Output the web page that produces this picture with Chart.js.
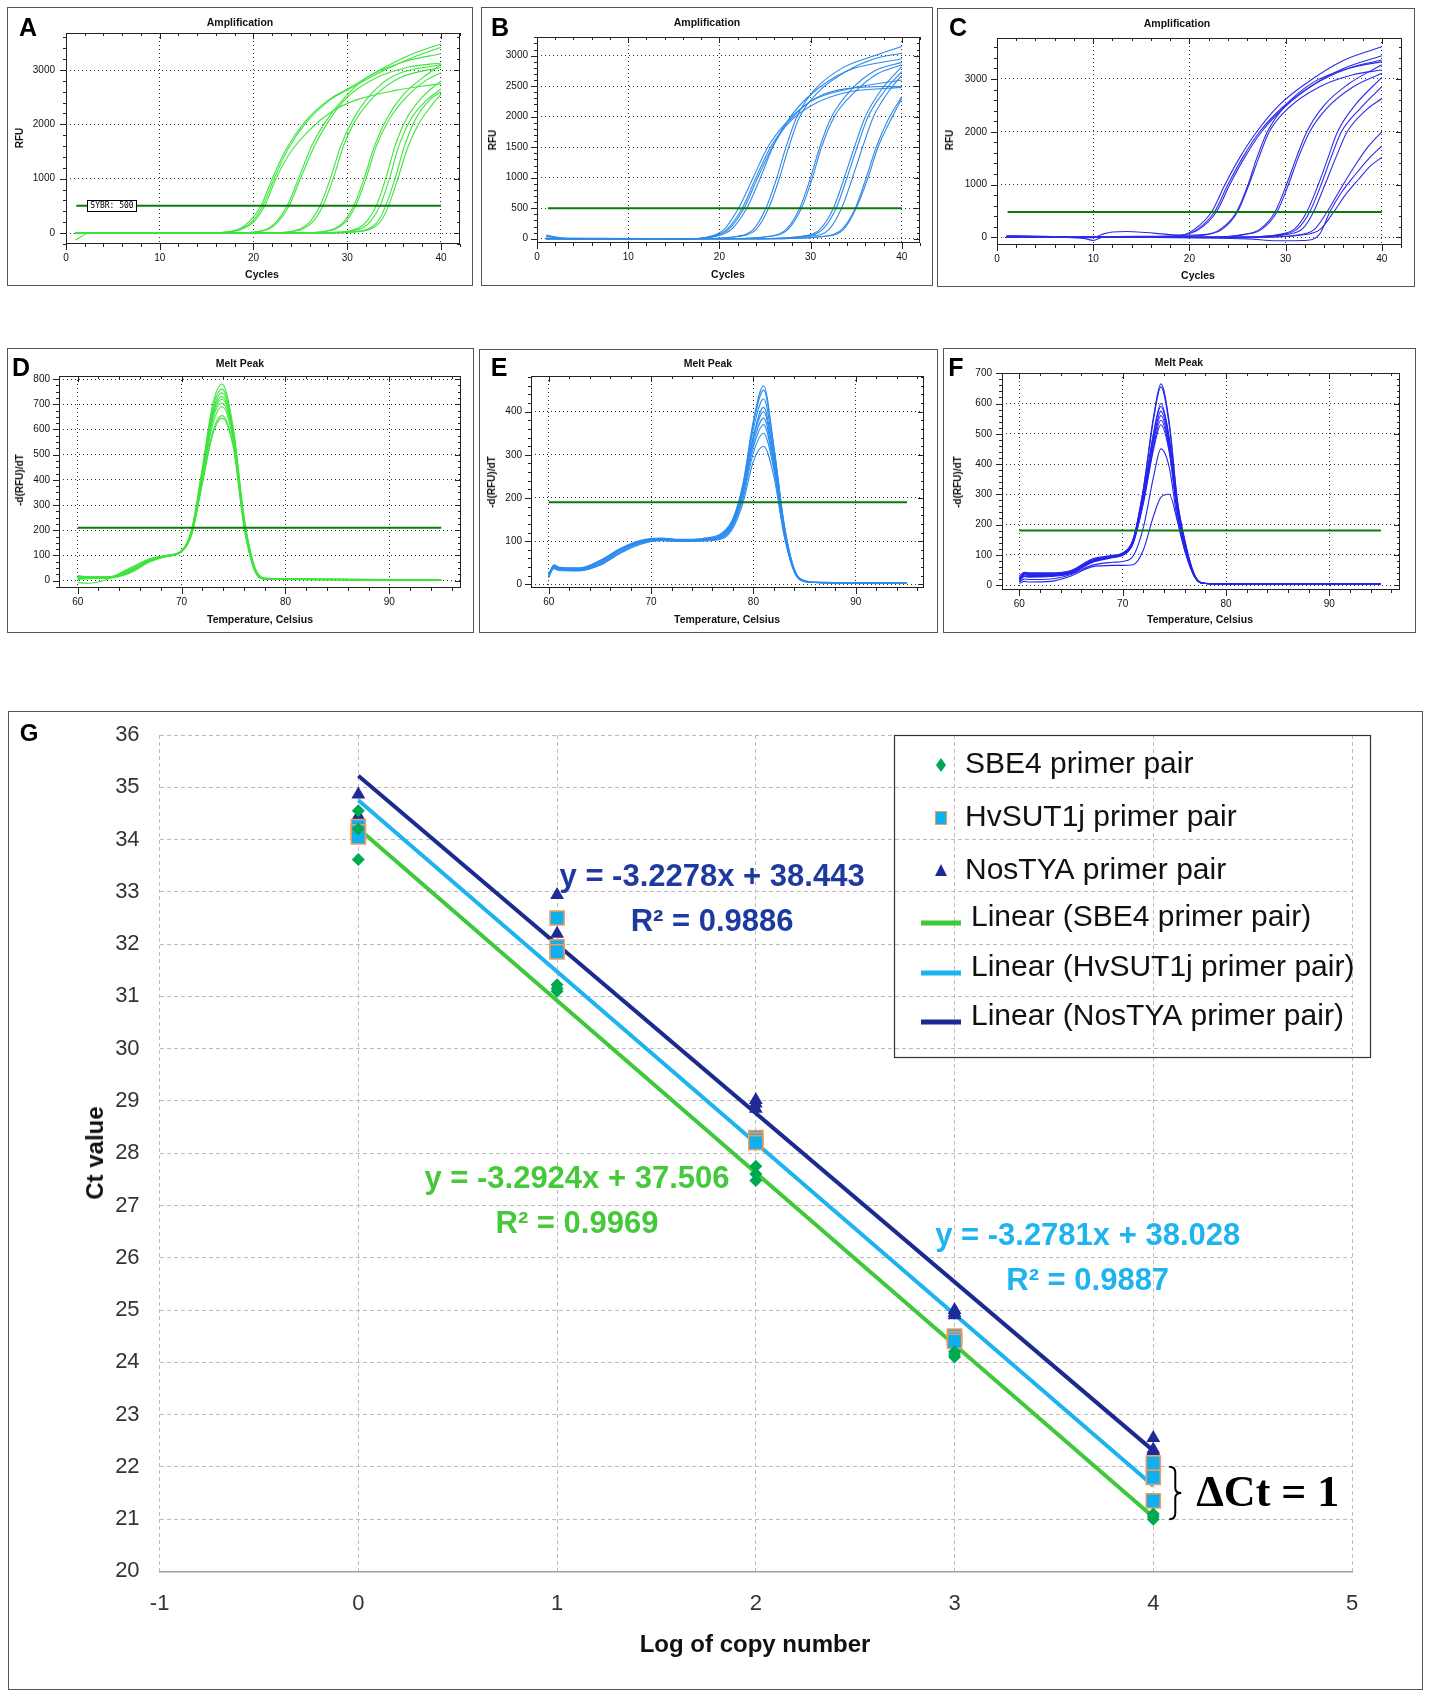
<!DOCTYPE html>
<html>
<head>
<meta charset="utf-8">
<title>qPCR amplification, melt peaks and standard curves</title>
<script src="https://cdn.jsdelivr.net/npm/chart.js@4.4.1/dist/chart.umd.min.js"></script>
<style>
  html, body { margin: 0; padding: 0; background: #fff; }
  body { position: relative; width: 1429px; height: 1696px; overflow: hidden; font-family: "Liberation Sans", Arial, sans-serif; }
  .box { position: absolute; border: 1px solid #555; box-sizing: border-box; }
  canvas { position: absolute; }
  .t { position: absolute; white-space: nowrap; line-height: 1; transform: translate(-50%, -50%); color: #111; }
  .rot { transform: translate(-50%, -50%) rotate(-90deg); }
  .sybr { position: absolute; box-sizing: border-box; border: 1px solid #000; background: #fff; white-space: nowrap;
          overflow: hidden; font: 8px "DejaVu Sans Mono", monospace; line-height: 10px; text-align: center; }
</style>
</head>
<body>
<script>
const FONT = '"Liberation Sans", Arial, sans-serif';
Chart.defaults.font.family = FONT;

const ampTicksX = [0, 10, 20, 30, 40];
const rfuTicksA = [0, 1000, 2000, 3000];
const rfuTicksB = [0, 500, 1000, 1500, 2000, 2500, 3000];
const rfuTicksC = [0, 1000, 2000, 3000];

const ampA = [
  [[1,-10],[14,-5],[17,20],[18.5,80],[19.5,200],[20.8,500],[22,1000],[23.5,1550],[25.5,2050],[28,2450],[30,2650],[34,3050],[37,3300],[40,3480]],
  [[1,-130],[2.5,0],[14,0],[17.2,20],[18.7,80],[19.8,200],[21,500],[22.2,1000],[23.7,1550],[25.7,2050],[28.2,2450],[30.2,2650],[34,3000],[37,3230],[40,3420]],
  [[1,0],[14,0],[17.4,20],[18.9,80],[20,200],[21.2,500],[22.4,1000],[24,1500],[26,1900],[28.5,2250],[31,2450],[35,2620],[40,2750]],
  [[1,0],[17,0],[20,20],[21.5,80],[22.4,200],[23.6,500],[24.8,1000],[26.2,1600],[27.5,2000],[29.5,2450],[32,2850],[36,3150],[40,3300]],
  [[1,5],[17,0],[20.2,20],[21.7,80],[22.6,200],[23.8,500],[25,1000],[26.5,1600],[27.8,2000],[30,2500],[33,2850],[36.5,3050],[40,3130]],
  [[1,0],[20,0],[23.5,20],[25,80],[26,200],[27.1,500],[28.2,1000],[29.3,1600],[30.5,2050],[32.5,2550],[35,2900],[40,3100]],
  [[1,0],[20,0],[23.8,20],[25.3,80],[26.3,200],[27.4,500],[28.5,1000],[29.6,1600],[30.8,2050],[32.8,2500],[35.5,2850],[40,3050]],
  [[1,0],[23,0],[27,20],[28.6,80],[29.6,200],[30.7,500],[31.8,1000],[32.9,1600],[34.2,2100],[36,2550],[38,2850],[40,3100]],
  [[1,0],[23,0],[27.2,20],[28.8,80],[29.8,200],[30.9,500],[32,1000],[33.1,1600],[34.5,2100],[36.3,2500],[38.3,2800],[40,2950]],
  [[1,0],[26,0],[30,30],[31.3,100],[32.1,220],[33.1,500],[34.1,1000],[35.1,1600],[36.3,2100],[38,2500],[40,2800]],
  [[1,0],[26,0],[30.4,30],[31.7,100],[32.5,220],[33.5,500],[34.5,1000],[35.5,1600],[36.8,2100],[38.5,2450],[40,2650]],
  [[1,0],[27,0],[31.5,40],[32.7,120],[33.4,250],[34.1,500],[35.1,1000],[36.1,1600],[37.3,2100],[38.8,2450],[40,2600]],
  [[1,0],[27,0],[31.8,40],[33,120],[33.7,250],[34.4,500],[35.4,1000],[36.4,1550],[37.6,2000],[39,2350],[40,2550]]
];

const ampB = [
  [[1,50],[2.5,10],[4,0],[17,0],[19,40],[20.5,150],[22.1,500],[23.7,1000],[25.3,1500],[27.3,1900],[30,2250],[34,2450],[40,2600]],
  [[1,40],[3,0],[17,0],[19.2,40],[20.8,150],[22.5,500],[24,1000],[25.6,1500],[27.6,1900],[30.3,2200],[34,2400],[40,2480]],
  [[1,60],[2.5,20],[4,0],[17,0],[19.4,40],[21,150],[22.7,500],[24.2,1000],[25.8,1500],[27.8,1950],[30.5,2300],[34,2460],[40,2500]],
  [[1,0],[17,0],[19.7,40],[21.3,150],[23,500],[24.5,1000],[26,1550],[27.8,2000],[30.3,2400],[34,2750],[40,2950]],
  [[1,0],[18,0],[22,40],[23.7,150],[25.1,500],[26.3,1000],[27.3,1500],[28.5,2000],[30.5,2450],[33.5,2800],[37,3000],[40,3150]],
  [[1,10],[18,0],[22.3,40],[24,150],[25.4,500],[26.6,1000],[27.6,1500],[28.8,2000],[30.8,2400],[34,2750],[37,2950],[40,3040]],
  [[1,0],[21,0],[25.5,40],[27.3,150],[28.8,500],[30,1000],[31,1500],[32.3,2000],[34.5,2450],[37,2750],[40,2890]],
  [[1,0],[21,0],[25.7,40],[27.5,150],[29,500],[30.2,1000],[31.2,1500],[32.6,2000],[34.8,2400],[37.3,2700],[40,2850]],
  [[1,0],[24,0],[29,40],[31,150],[32.5,500],[33.7,1000],[34.8,1500],[36,2000],[37.8,2450],[40,2820]],
  [[1,0],[24,0],[29.3,40],[31.3,150],[32.8,500],[34,1000],[35.1,1500],[36.3,2000],[38,2400],[40,2740]],
  [[1,0],[25,0],[30,40],[32,150],[33.4,500],[34.6,1000],[35.7,1500],[36.9,2000],[38.5,2400],[40,2680]],
  [[1,0],[26,0],[31.5,40],[33.4,150],[34.9,500],[36.1,1000],[37.2,1500],[38.5,1950],[40,2330]],
  [[1,0],[26,0],[31.7,40],[33.6,150],[35,500],[36.3,1000],[37.4,1500],[38.8,1950],[40,2300]]
];

const ampC = [
  [[1,30],[5,20],[10,0],[15,10],[19,30],[20.5,150],[22.3,480],[23.7,1000],[25.2,1500],[27,2000],[29.3,2500],[32,2900],[36,3350],[40,3610]],
  [[1,20],[9,-20],[10,-60],[11,0],[15,20],[19,40],[20.8,150],[22.6,480],[24,1000],[25.5,1500],[27.3,2000],[29.6,2450],[32.5,2850],[36,3200],[40,3440]],
  [[1,10],[15,0],[19.2,40],[21,150],[22.8,480],[24.2,1000],[25.7,1500],[27.5,2000],[29.8,2450],[33,2900],[36.5,3200],[40,3360]],
  [[1,30],[10,-10],[11,60],[12,100],[13.5,110],[15.5,90],[17.5,60],[19.5,40],[21.5,50],[23.2,150],[24.9,480],[26.1,1000],[27,1500],[28.1,2000],[30,2500],[33,2950],[36.5,3200],[40,3330]],
  [[1,10],[18,10],[21.8,50],[23.4,150],[25,480],[26.2,1000],[27.2,1500],[28.3,2000],[30.3,2450],[33.5,2850],[37,3080],[40,3170]],
  [[1,0],[22,0],[25.5,50],[27.3,150],[28.9,480],[30.1,1000],[31.1,1500],[32.2,2000],[34,2500],[36.5,2900],[40,3270]],
  [[1,0],[22,0],[25.7,50],[27.5,150],[29.1,480],[30.3,1000],[31.3,1500],[32.5,2000],[34.3,2450],[37,2850],[40,3110]],
  [[1,0],[25,0],[29.5,60],[31,170],[32.2,480],[33.4,1000],[34.4,1500],[35.4,2000],[37.2,2500],[40,3030]],
  [[1,0],[25,0],[29.8,60],[31.3,170],[32.5,480],[33.7,1000],[34.7,1500],[35.8,2000],[37.8,2450],[40,2855]],
  [[1,0],[25,0],[30.3,60],[31.8,170],[32.9,480],[34.1,1000],[35.2,1500],[36.4,2000],[38.3,2400],[40,2630]],
  [[1,0],[26,0],[31,40],[33,150],[34.3,480],[35.5,850],[37,1300],[38.5,1700],[40,2000]],
  [[1,10],[26,-30],[29,-65],[32,-60],[33.5,50],[34.6,480],[35.8,850],[37.3,1200],[38.7,1500],[40,1730]],
  [[1,0],[27,0],[31.5,40],[33.6,150],[35,480],[36.2,800],[37.6,1100],[38.8,1350],[40,1515]]
];

// ---- melt peaks, -d(RFU)/dT sampled at the temperatures below (panels D-F) ----
const meltTicksX = [60, 70, 80, 90];
const dTicksD = [0, 100, 200, 300, 400, 500, 600, 700, 800];
const dTicksE = [0, 100, 200, 300, 400];
const dTicksF = [0, 100, 200, 300, 400, 500, 600, 700];

const tempD = [60, 61, 63, 65, 67, 68.5, 70, 71, 72, 73, 73.9, 75, 76, 77, 78, 80, 95];
const meltD = [
  [18, 15, 14, 40, 80, 97, 118, 210, 450, 700, 780, 600, 260, 60, 10, 8, 3],
  [10, 12, 12, 35, 78, 96, 115, 205, 440, 685, 760, 590, 250, 55, 9, 7, 3],
  [5, 8, 10, 30, 75, 95, 115, 200, 430, 670, 745, 585, 245, 55, 8, 7, 2],
  [12, 14, 15, 45, 85, 100, 120, 200, 425, 660, 730, 575, 240, 50, 8, 6, 2],
  [-8, -10, 8, 50, 88, 100, 118, 195, 420, 650, 720, 570, 235, 50, 7, 6, 2],
  [15, 10, 12, 35, 80, 98, 116, 195, 410, 640, 705, 560, 230, 48, 7, 5, 2],
  [8, 10, 14, 38, 82, 97, 115, 190, 400, 620, 690, 550, 225, 45, 7, 5, 2],
  [20, 15, 15, 42, 86, 99, 117, 190, 390, 590, 655, 530, 220, 45, 6, 5, 2],
  [10, 12, 13, 36, 84, 96, 114, 185, 385, 580, 645, 525, 215, 42, 6, 5, 2]
];

const tempE = [60, 60.5, 61, 63, 65, 67, 69, 71, 73, 75, 77, 78, 79, 80, 81, 82, 83, 84, 85, 86, 95];
const meltE = [
  [15, 42, 38, 36, 52, 80, 100, 106, 104, 105, 118, 150, 235, 380, 460, 320, 140, 35, 8, 5, 3],
  [20, 45, 40, 37, 55, 83, 102, 107, 103, 106, 120, 152, 232, 372, 450, 318, 140, 34, 8, 5, 3],
  [25, 40, 36, 34, 48, 78, 98, 104, 102, 104, 116, 148, 228, 360, 430, 305, 135, 33, 8, 4, 3],
  [18, 38, 35, 33, 46, 75, 96, 103, 101, 103, 114, 145, 222, 345, 410, 295, 130, 32, 7, 4, 2],
  [22, 44, 38, 38, 55, 82, 100, 106, 103, 104, 112, 142, 218, 338, 400, 290, 128, 31, 7, 4, 2],
  [16, 40, 36, 35, 50, 79, 98, 105, 102, 103, 111, 140, 214, 328, 385, 282, 125, 30, 7, 4, 2],
  [20, 37, 33, 32, 45, 74, 95, 102, 100, 102, 110, 138, 208, 318, 370, 275, 122, 30, 7, 4, 2],
  [24, 42, 37, 36, 52, 80, 97, 104, 101, 102, 108, 135, 200, 305, 350, 265, 118, 29, 6, 4, 2],
  [18, 36, 32, 31, 44, 72, 93, 101, 99, 100, 106, 130, 190, 285, 320, 250, 112, 28, 6, 4, 2]
];

const tempF = [60, 60.5, 61, 63, 65, 67, 69, 70, 71, 72, 73, 73.7, 74.5, 75.3, 76, 77, 78, 80, 95];
const meltF = [
  [20, 40, 38, 38, 45, 80, 95, 105, 150, 320, 560, 665, 540, 280, 150, 30, 6, 4, 3],
  [25, 38, 36, 36, 44, 82, 96, 104, 148, 315, 550, 655, 530, 275, 148, 30, 6, 4, 3],
  [15, 35, 33, 34, 42, 78, 93, 102, 145, 300, 505, 600, 490, 260, 140, 28, 5, 4, 3],
  [30, 42, 40, 40, 48, 85, 98, 106, 150, 300, 500, 590, 480, 255, 138, 28, 5, 4, 3],
  [18, 30, 28, 30, 40, 76, 92, 100, 140, 290, 485, 575, 470, 250, 135, 27, 5, 4, 3],
  [22, 36, 34, 35, 43, 80, 94, 103, 142, 285, 475, 560, 460, 245, 132, 27, 5, 3, 2],
  [12, 28, 26, 28, 38, 74, 90, 98, 136, 275, 460, 545, 450, 240, 130, 26, 5, 3, 2],
  [20, 33, 31, 32, 41, 77, 92, 100, 138, 270, 450, 530, 440, 235, 128, 26, 5, 3, 2],
  [10, 20, 18, 20, 35, 65, 75, 78, 95, 190, 360, 450, 390, 215, 115, 24, 5, 3, 2],
  [5, 12, 10, 12, 30, 60, 65, 65, 67, 116, 230, 290, 300, 210, 115, 25, 5, 3, 2]
];

// ---- standard curves (panel G): Ct against log copy number ----
const sbe4X = [0, 0, 0, 1, 1, 1, 2, 2, 2, 3, 3, 3, 4, 4, 4];
const sbe4Y = [34.55, 34.2, 33.62, 31.22, 31.1, 31.15, 27.75, 27.6, 27.48, 24.1, 24.2, 24.15, 21.05, 21.1, 21.0];
const hvX = [0, 0, 0, 1, 1, 1, 2, 2, 2, 3, 3, 3, 4, 4, 4];
const hvY = [34.25, 34.15, 34.05, 32.5, 31.95, 31.85, 28.3, 28.25, 28.2, 24.5, 24.45, 24.4, 22.07, 21.8, 21.35];
const nosX = [0, 0, 0, 1, 1, 1, 2, 2, 2, 3, 3, 3, 4, 4, 4];
const nosY = [34.86, 34.45, 34.4, 32.94, 32.44, 32.2, 29.02, 28.95, 28.85, 25.0, 24.95, 24.9, 22.55, 22.33, 22.3];
const fitX = [0, 4];
const sbe4Fit = [34.21, 21.04];
const hvFit = [34.75, 21.64];
const nosFit = [35.22, 22.31];
const gTicksX = [-1, 0, 1, 2, 3, 4, 5];
const gTicksY = [20, 21, 22, 23, 24, 25, 26, 27, 28, 29, 30, 31, 32, 33, 34, 35, 36];

const eqLabels = [
  { text: 'y = -3.2278x + 38.443', x: 1.78, y: 33.28, color: '#1f3a9f' },
  { text: 'R\u00b2 = 0.9886', x: 1.78, y: 32.42, color: '#1f3a9f' },
  { text: 'y = -3.2924x + 37.506', x: 1.10, y: 27.49, color: '#45c93a' },
  { text: 'R\u00b2 = 0.9969', x: 1.10, y: 26.63, color: '#45c93a' },
  { text: 'y = -3.2781x + 38.028', x: 3.67, y: 26.40, color: '#1fb4ee' },
  { text: 'R\u00b2 = 0.9887', x: 3.67, y: 25.54, color: '#1fb4ee' }
];

// ---------- page helpers ----------
function addText(txt, x, y, css, rot) {
  const d = document.createElement('div');
  d.className = rot ? 't rot' : 't';
  d.style.left = x + 'px';
  d.style.top = y + 'px';
  d.style.cssText += css;
  d.textContent = txt;
  document.body.appendChild(d);
}
function addBox(b) {
  const d = document.createElement('div');
  d.className = 'box';
  d.style.cssText = `left:${b[0]}px;top:${b[1]}px;width:${b[2] - b[0]}px;height:${b[3] - b[1]}px`;
  document.body.appendChild(d);
}
function addCanvas(b) {
  const cv = document.createElement('canvas');
  const w = b[2] - b[0], h = b[3] - b[1];
  cv.width = w; cv.height = h;
  cv.style.cssText = `left:${b[0]}px;top:${b[1]}px;width:${w}px;height:${h}px`;
  document.body.appendChild(cv);
  return cv;
}
const pairs = (xs, ys) => ys.map((v, i) => ({ x: xs[i], y: v }));
// keep the plot box where it was measured: no extra room for end labels
const noEdgePad = s => { s.paddingTop = 0; s.paddingBottom = 0; s.paddingLeft = 0; s.paddingRight = 0; };

// plot frame with the small tick marks of the instrument software
const cfxFrame = {
  id: 'cfxFrame',
  afterDraw(chart, args, o) {
    const { ctx, chartArea: a, scales: { x, y } } = chart;
    ctx.save();
    ctx.strokeStyle = '#222';
    ctx.lineWidth = 1;
    ctx.strokeRect(Math.round(a.left) + 0.5, Math.round(a.top) + 0.5, Math.round(a.width) - 1, Math.round(a.height) - 1);
    ctx.beginPath();
    for (let v = Math.ceil(x.min / o.xStep) * o.xStep; v <= x.max; v += o.xStep) {
      const px = Math.round(x.getPixelForValue(v)) + 0.5;
      const len = v % o.xMajor === 0 ? 6 : 3;
      ctx.moveTo(px, a.bottom); ctx.lineTo(px, a.bottom + len);
      ctx.moveTo(px, a.top); ctx.lineTo(px, a.top + len);
    }
    for (let v = Math.ceil(y.min / o.yStep) * o.yStep; v <= y.max; v += o.yStep) {
      const py = Math.round(y.getPixelForValue(v)) + 0.5;
      const len = v % o.yMajor === 0 ? 6 : 3;
      ctx.moveTo(a.left - len, py); ctx.lineTo(a.left, py);
      ctx.moveTo(a.right, py); ctx.lineTo(a.right - len, py);
    }
    ctx.stroke();
    ctx.restore();
  }
};

function cfxPanel(p) {
  addBox(p.box);
  const cv = addCanvas(p.box);
  const datasets = [{
    data: p.thr, showLine: true, borderColor: '#0b7a0b', borderWidth: 2, pointRadius: 0
  }].concat(p.curves.map(c => ({
    data: c, showLine: true, borderColor: p.color, borderWidth: 1.1, pointRadius: 0,
    cubicInterpolationMode: 'monotone'
  })));
  new Chart(cv, {
    type: 'scatter',
    data: { datasets },
    options: {
      responsive: false, animation: false, events: [],
      layout: { padding: { left: 0, bottom: 0, top: p.plot[1] - p.box[1], right: p.box[2] - p.plot[2] } },
      plugins: { legend: { display: false }, tooltip: { enabled: false }, cfxFrame: p.frame },
      scales: {
        x: {
          type: 'linear', min: p.x[0], max: p.x[1],
          afterBuildTicks: s => { s.ticks = p.xt.map(v => ({ value: v })); },
          afterFit: s => { s.height = p.box[3] - p.plot[3]; noEdgePad(s); },
          ticks: { color: '#111', font: { size: 10 }, padding: 8, maxRotation: 0, callback: v => String(v) },
          grid: { color: '#333', lineWidth: 1, drawTicks: false },
          border: { display: false, dash: [1, 3] }
        },
        y: {
          type: 'linear', min: p.y[0], max: p.y[1],
          afterBuildTicks: s => { s.ticks = p.yt.map(v => ({ value: v })); },
          afterFit: s => { s.width = p.plot[0] - p.box[0]; noEdgePad(s); },
          ticks: { color: '#111', font: { size: 10 }, padding: p.yPad, callback: v => String(v) },
          grid: { color: '#333', lineWidth: 1, drawTicks: false },
          border: { display: false, dash: [1, 3] }
        }
      }
    },
    plugins: [cfxFrame]
  });
  const f = 'font-weight:bold;font-size:';
  addText(p.letter[0], p.letter[1], p.letter[2], f + '25px;color:#000;');
  addText(p.title[0], p.title[1], p.title[2], f + '10.5px;');
  addText(p.xTitle[0], p.xTitle[1], p.xTitle[2], f + '10.5px;');
  addText(p.yTitle[0], p.yTitle[1], p.yTitle[2], f + '10px;', true);
}

const ampFrame = { xStep: 2, xMajor: 10, yStep: 200, yMajor: 1000 };
cfxPanel({
  box: [7, 7, 473, 286], plot: [66, 33, 460, 244], x: [0, 42.03], y: [-202, 3681],
  xt: ampTicksX, yt: rfuTicksA, yPad: 11, curves: ampA, color: '#3de43d',
  thr: [{ x: 1.1, y: 500 }, { x: 40, y: 500 }], frame: ampFrame,
  letter: ['A', 28, 27], title: ['Amplification', 240, 22], xTitle: ['Cycles', 262, 274], yTitle: ['RFU', 20, 138]
});
cfxPanel({
  box: [481, 7, 933, 286], plot: [537, 37, 920, 243], x: [0, 42.0], y: [-70, 3306],
  xt: ampTicksX, yt: rfuTicksB, yPad: 9, curves: ampB, color: '#2f89e6',
  thr: [{ x: 1.2, y: 500 }, { x: 40, y: 500 }], frame: { xStep: 2, xMajor: 10, yStep: 100, yMajor: 500 },
  letter: ['B', 500, 27], title: ['Amplification', 707, 22], xTitle: ['Cycles', 728, 274], yTitle: ['RFU', 493, 140]
});
cfxPanel({
  box: [937, 8, 1415, 287], plot: [997, 38, 1402, 245], x: [0, 42.1], y: [-146, 3777],
  xt: ampTicksX, yt: rfuTicksC, yPad: 10, curves: ampC, color: '#2c2ce8',
  thr: [{ x: 1.1, y: 480 }, { x: 40, y: 480 }], frame: ampFrame,
  letter: ['C', 958, 27], title: ['Amplification', 1177, 23], xTitle: ['Cycles', 1198, 275], yTitle: ['RFU', 950, 140]
});
cfxPanel({
  box: [7, 348, 474, 633], plot: [59, 376, 461, 588], x: [58.2, 96.9], y: [-29, 812],
  xt: meltTicksX, yt: dTicksD, yPad: 9, curves: meltD.map(ys => pairs(tempD, ys)), color: '#3de43d',
  thr: [{ x: 60, y: 210 }, { x: 95, y: 210 }], frame: { xStep: 2, xMajor: 10, yStep: 25, yMajor: 100 },
  letter: ['D', 21, 367], title: ['Melt Peak', 240, 363], xTitle: ['Temperature, Celsius', 260, 619], yTitle: ['-d(RFU)/dT', 20, 480]
});
cfxPanel({
  box: [479, 349, 938, 633], plot: [531, 376, 924, 588], x: [58.27, 96.67], y: [-8.6, 482.7],
  xt: meltTicksX, yt: dTicksE, yPad: 9, curves: meltE.map(ys => pairs(tempE, ys)), color: '#2b8cf0',
  thr: [{ x: 60, y: 190 }, { x: 95, y: 190 }], frame: { xStep: 2, xMajor: 10, yStep: 20, yMajor: 100 },
  letter: ['E', 499, 367], title: ['Melt Peak', 708, 363], xTitle: ['Temperature, Celsius', 727, 619], yTitle: ['-d(RFU)/dT', 492, 482]
});
cfxPanel({
  box: [943, 348, 1416, 633], plot: [1002, 373, 1400, 590], x: [58.32, 96.84], y: [-16.5, 701],
  xt: meltTicksX, yt: dTicksF, yPad: 10, curves: meltF.map(ys => pairs(tempF, ys)), color: '#2424ec',
  thr: [{ x: 60, y: 180 }, { x: 95, y: 180 }], frame: { xStep: 2, xMajor: 10, yStep: 20, yMajor: 100 },
  letter: ['F', 956, 367], title: ['Melt Peak', 1179, 362], xTitle: ['Temperature, Celsius', 1200, 619], yTitle: ['-d(RFU)/dT', 958, 482]
});

// threshold tag in panel A
const tag = document.createElement('div');
tag.className = 'sybr';
tag.style.cssText += 'left:87px;top:200px;width:50px;height:12px;';
tag.textContent = 'SYBR: 500';
document.body.appendChild(tag);

// ---------- panel G ----------
const gDecor = {
  id: 'gDecor',
  afterDraw(chart) {
    const { ctx, scales: { x, y } } = chart;
    const ds = chart.data.datasets;
    ctx.save();
    ctx.textAlign = 'center';
    ctx.textBaseline = 'middle';
    ctx.font = 'bold 31px ' + FONT;
    eqLabels.forEach(e => {
      ctx.fillStyle = e.color;
      ctx.fillText(e.text, x.getPixelForValue(e.x), y.getPixelForValue(e.y));
    });

    // legend
    const L = { left: 886, top: 24, w: 476, h: 322 };
    ctx.strokeStyle = '#333';
    ctx.lineWidth = 1.2;
    ctx.strokeRect(L.left + 0.5, L.top + 0.5, L.w, L.h);
    const rows = [30, 83, 136, 183, 233, 282];
    ctx.font = '30px ' + FONT;
    ctx.textAlign = 'left';
    ds.forEach((d, i) => {
      const cy = L.top + rows[i];
      ctx.fillStyle = d.backgroundColor || d.borderColor;
      ctx.strokeStyle = d.borderColor;
      if (i < 3) {
        const mx = L.left + 47;
        ctx.beginPath();
        if (d.pointStyle === 'rectRot') {
          ctx.moveTo(mx, cy - 7); ctx.lineTo(mx + 5, cy); ctx.lineTo(mx, cy + 7); ctx.lineTo(mx - 5, cy);
          ctx.closePath(); ctx.fill();
        } else if (d.pointStyle === 'rect') {
          ctx.rect(mx - 5.5, cy - 6.5, 11, 13); ctx.fill();
          ctx.lineWidth = 1.2; ctx.stroke();
        } else {
          ctx.moveTo(mx, cy - 7); ctx.lineTo(mx + 6, cy + 5); ctx.lineTo(mx - 6, cy + 5);
          ctx.closePath(); ctx.fill();
        }
        ctx.fillStyle = '#111';
        ctx.fillText(d.label, L.left + 71, cy);
      } else {
        ctx.lineWidth = 5;
        ctx.beginPath();
        ctx.moveTo(L.left + 27, cy + 5); ctx.lineTo(L.left + 67, cy + 5);
        ctx.stroke();
        ctx.fillStyle = '#111';
        ctx.fillText(d.label, L.left + 77, cy);
      }
    });

    // brace and delta-Ct note beside the highest dilution
    const bx = x.getPixelForValue(4) + 16;
    const yt = y.getPixelForValue(22), yb = y.getPixelForValue(21), ym = (yt + yb) / 2;
    ctx.strokeStyle = '#000';
    ctx.lineWidth = 2;
    ctx.beginPath();
    ctx.moveTo(bx, yt);
    ctx.quadraticCurveTo(bx + 6, yt, bx + 6, yt + 6);
    ctx.lineTo(bx + 6, ym - 5);
    ctx.quadraticCurveTo(bx + 6, ym, bx + 12, ym);
    ctx.quadraticCurveTo(bx + 6, ym, bx + 6, ym + 5);
    ctx.lineTo(bx + 6, yb - 6);
    ctx.quadraticCurveTo(bx + 6, yb, bx, yb);
    ctx.stroke();
    ctx.font = 'bold 44px "Liberation Serif", "Times New Roman", serif';
    ctx.fillStyle = '#000';
    ctx.textAlign = 'left';
    ctx.fillText('\u0394Ct = 1', bx + 27, ym + 2);
    ctx.restore();
  }
};

const boxG = [8, 711, 1423, 1690];
addBox(boxG);
const cvG = addCanvas(boxG);
new Chart(cvG, {
  type: 'scatter',
  data: {
    datasets: [
      { label: 'SBE4 primer pair', data: pairs(sbe4X, sbe4Y), pointStyle: 'rectRot', pointRadius: 6.5,
        backgroundColor: '#00a850', borderColor: '#00a850', borderWidth: 0 },
      { label: 'HvSUT1j primer pair', data: pairs(hvX, hvY), pointStyle: 'rect', pointRadius: 10,
        backgroundColor: '#10b0ef', borderColor: '#f39a5a', borderWidth: 1.5 },
      { label: 'NosTYA primer pair', data: pairs(nosX, nosY), pointStyle: 'triangle', pointRadius: 8,
        backgroundColor: '#1f2a96', borderColor: '#1f2a96', borderWidth: 0 },
      { label: 'Linear (SBE4 primer pair)', data: pairs(fitX, sbe4Fit), showLine: true,
        borderColor: '#3fc83a', borderWidth: 4, pointRadius: 0 },
      { label: 'Linear (HvSUT1j primer pair)', data: pairs(fitX, hvFit), showLine: true,
        borderColor: '#1cb3ee', borderWidth: 4, pointRadius: 0 },
      { label: 'Linear (NosTYA primer pair)', data: pairs(fitX, nosFit), showLine: true,
        borderColor: '#1b2a8e', borderWidth: 4, pointRadius: 0 }
    ]
  },
  options: {
    responsive: false, animation: false, events: [],
    layout: { padding: { left: 0, top: 24, right: 71, bottom: 0 } },
    plugins: { legend: { display: false }, tooltip: { enabled: false } },
    scales: {
      x: {
        type: 'linear', min: -1, max: 5,
        afterBuildTicks: s => { s.ticks = gTicksX.map(v => ({ value: v })); },
        afterFit: s => { s.height = 118.6; noEdgePad(s); },
        ticks: { color: '#333', font: { size: 22 }, padding: 19 },
        grid: { color: '#bdbdbd', lineWidth: 1, drawTicks: false },
        border: { display: true, color: '#a0a0a0', width: 1.5, dash: [4, 3] }
      },
      y: {
        type: 'linear', min: 20, max: 36,
        afterBuildTicks: s => { s.ticks = gTicksY.map(v => ({ value: v })); },
        afterFit: s => { s.width = 151.6; noEdgePad(s); },
        ticks: { color: '#333', font: { size: 22 }, padding: 20 },
        grid: { color: '#bdbdbd', lineWidth: 1, drawTicks: false },
        border: { display: false, dash: [4, 3] }
      }
    }
  },
  plugins: [gDecor]
});
addText('G', 29, 733, 'font-weight:bold;font-size:24px;color:#000;');
addText('Ct value', 95, 1153, 'font-weight:bold;font-size:24px;color:#111;', true);
addText('Log of copy number', 755, 1644, 'font-weight:bold;font-size:24px;color:#111;');
</script>
</body>
</html>
